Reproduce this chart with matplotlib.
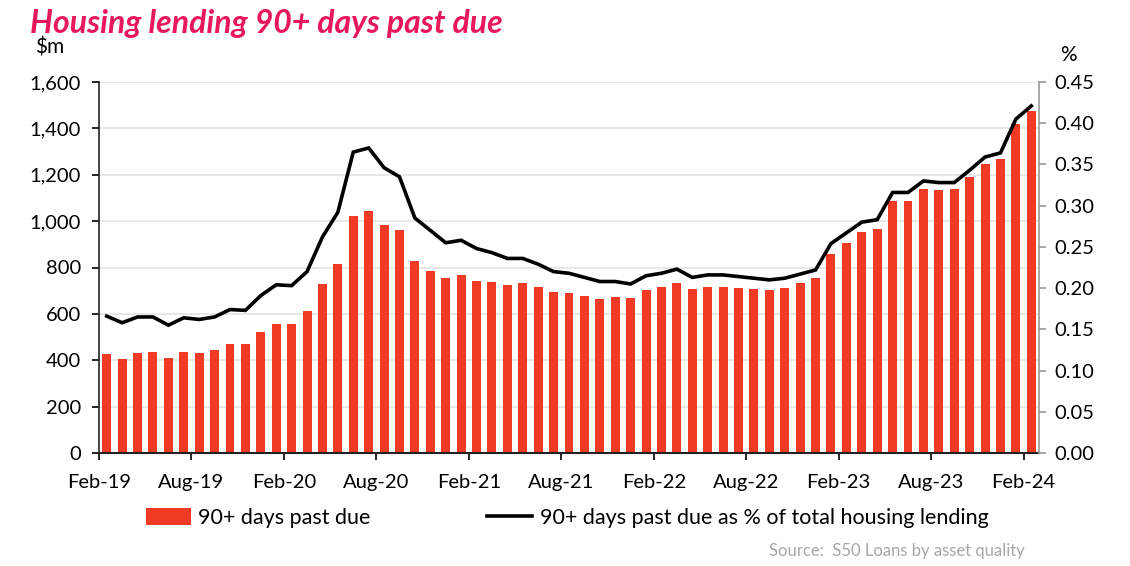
import matplotlib
matplotlib.use("Agg")
import matplotlib.pyplot as plt
from matplotlib.patches import Patch
from matplotlib.lines import Line2D
import numpy as np

# Monthly data Feb-19 .. Feb-24
amount_m = [427, 407, 430, 435, 410, 435, 433, 443, 469, 469,
            521, 558, 558, 611, 727, 814, 1024, 1044, 983, 960,
            829, 787, 755, 767, 742, 738, 725, 732, 717, 694,
            692, 678, 666, 672, 668, 704, 715, 735, 706, 718,
            718, 712, 706, 704, 712, 732, 754, 858, 906, 955,
            968, 1086, 1088, 1138, 1135, 1137, 1190, 1247, 1270, 1419,
            1475]
pct_total = [0.166, 0.158, 0.165, 0.165, 0.155, 0.164, 0.162, 0.165, 0.174, 0.173,
             0.191, 0.204, 0.203, 0.220, 0.262, 0.292, 0.365, 0.370, 0.346, 0.335,
             0.285, 0.270, 0.255, 0.258, 0.248, 0.243, 0.236, 0.236, 0.229, 0.220,
             0.218, 0.213, 0.208, 0.208, 0.205, 0.215, 0.218, 0.223, 0.213, 0.216,
             0.216, 0.214, 0.212, 0.210, 0.212, 0.217, 0.222, 0.254, 0.267, 0.280,
             0.283, 0.316, 0.316, 0.330, 0.328, 0.328, 0.343, 0.359, 0.364, 0.405,
             0.421]
tick_labels = ["Feb-19", "Aug-19", "Feb-20", "Aug-20", "Feb-21", "Aug-21",
               "Feb-22", "Aug-22", "Feb-23", "Aug-23", "Feb-24"]
left_ticks = [0, 200, 400, 600, 800, 1000, 1200, 1400, 1600]
right_ticks = [0.00, 0.05, 0.10, 0.15, 0.20, 0.25, 0.30, 0.35, 0.40, 0.45]

title = "Housing lending 90+ days past due"
bar_label = "90+ days past due"
line_label = "90+ days past due as % of total housing lending"
source = "Source:  S50 Loans by asset quality"

plt.rcParams['font.family'] = ['Lato', 'DejaVu Sans']
BAR_C = '#EF3B24'

fig = plt.figure(figsize=(11.30, 5.66), dpi=100)
ax = fig.add_axes([99/1130, 1-453/566, (1039-99)/1130, (453-82)/566])
x = np.arange(len(amount_m)) + 0.5
ax.bar(x, amount_m, width=0.58, color=BAR_C, zorder=2)
ax.set_ylim(0, 1600)
ax.set_xlim(0, len(amount_m))
ax.set_yticks(left_ticks)
ax.set_yticklabels([f"{v:,}" for v in left_ticks])
ax.set_xticks(np.arange(0, 61, 6))
ax.set_xticklabels(tick_labels)
ax.grid(axis='y', color='#e3e3e3', lw=1.2, zorder=0)
ax.set_axisbelow(True)
for s in ['top', 'right']:
    ax.spines[s].set_visible(False)
ax.spines['left'].set_color('#222222')
ax.spines['bottom'].set_color('#222222')
ax.spines['left'].set_linewidth(1.2)
ax.spines['bottom'].set_linewidth(1.5)
ax.tick_params(axis='both', labelsize=14.5, colors='#000000', length=5, width=1.2)
ax.tick_params(axis='x', pad=10)
ax.tick_params(axis='y', pad=8)

ax2 = ax.twinx()
ax2.plot(x, pct_total, color='black', lw=2.6, zorder=3, solid_joinstyle='miter')
ax2.set_ylim(0, 0.45)
ax2.set_yticks(right_ticks)
ax2.set_yticklabels([f"{v:.2f}" for v in right_ticks])
for s in ['top', 'left', 'bottom']:
    ax2.spines[s].set_visible(False)
ax2.spines['right'].set_color('#999999')
ax2.spines['right'].set_linewidth(1.2)
ax2.tick_params(axis='y', labelsize=14.5, colors='#999999', labelcolor='black', length=5, width=1.2, pad=6)

fig.text(30/1130, 1-23/566, title, fontsize=23, fontstyle='italic', fontweight='bold',
         color='#E8185A', va='center', ha='left')
fig.text(35/1130, 1-48/566, "$m", fontsize=15, va='center', ha='left')
fig.text(1060/1130, 1-55/566, "%", fontsize=15, va='center', ha='left')

handles = [Patch(facecolor=BAR_C, edgecolor='none'),
           Line2D([0], [0], color='black', lw=2.6)]
fig.legend(handles, [bar_label, line_label], loc='center', ncol=2,
           bbox_to_anchor=(567/1130, 1-518/566), frameon=False, fontsize=15.5,
           handlelength=2.1, handletextpad=0.35, columnspacing=5.4,
           handleheight=0.8)
fig.text(1025/1130, 1-551/566, source, fontsize=12, color='#a6a6a6', ha='right', va='center')

fig.savefig("out.png", dpi=100)
